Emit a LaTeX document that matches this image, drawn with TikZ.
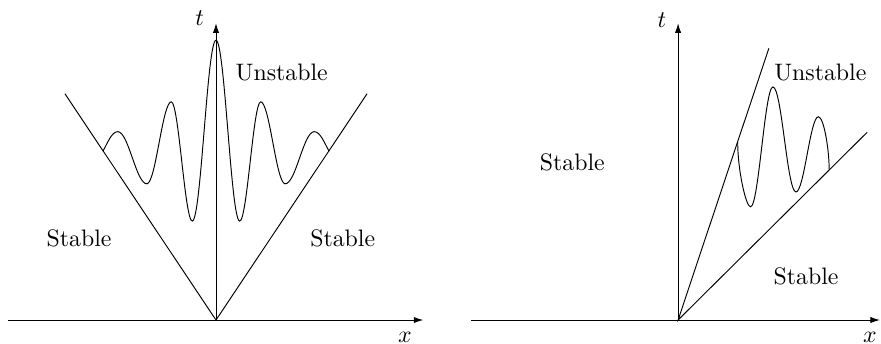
\documentclass[tikz,border=0pt]{standalone}
\usetikzlibrary{arrows.meta}
\begin{document}
\begin{tikzpicture}[axis/.style={-{Latex[length=4pt,width=2.6pt]}}]
\useasboundingbox (-3.188,-0.354) rectangle (9.815,4.723);

   % left: symmetric cone
   \coordinate (O1) at (0,0);
   \coordinate (xe1) at (3.06,0);
   \coordinate (te1) at (0,4.38);
   \draw[axis] (-3.07,0) -- (xe1);
   \draw[axis] (O1) -- (te1);
   \node (t1) at (-0.24,4.46) {$t$};
   \node (x1) at (2.79,-0.25) {$x$};

   \draw (-2.23,3.34) -- (O1) -- (2.23,3.34);

   \node (u1) at (0.97,3.66) {Unstable};
   \node (sl1) at (-2.02,1.21) {Stable};
   \node (sr1) at (1.87,1.21) {Stable};

   \foreach \s in {1,-1}
   \draw[xscale=\s] (-1.67,2.49) .. controls +(60:0.14) and +(-0.09,0) .. (-1.45,2.78)
      .. controls +(0.16,0) and +(-0.16,0) .. (-1.02,2.01)
      .. controls +(0.13,0) and +(-0.13,0) .. (-0.66,3.22)
      .. controls +(0.11,0) and +(-0.11,0) .. (-0.35,1.46)
      .. controls +(0.13,0) and +(-0.13,0) .. (0,4.13);

   % right: one-sided cone
   \begin{scope}[xshift=6.82cm]
   \coordinate (O2) at (0,0);
   \coordinate (xe2) at (2.98,0);
   \coordinate (te2) at (0,4.38);
   \draw[axis] (-3.06,0) -- (xe2);
   \draw[axis] (O2) -- (te2);
   \node (t2) at (-0.24,4.43) {$t$};
   \node (x2) at (2.83,-0.25) {$x$};

   \draw (1.34,4.01) -- (O2) -- (2.79,2.77);

   \node (u2) at (2.10,3.66) {Unstable};
   \node (sl2) at (-1.56,2.33) {Stable};
   \node (sr2) at (1.89,0.65) {Stable};

   \draw (0.88,2.62) .. controls +(0,-0.4) and +(-0.07,0) .. (1.07,1.67)
      .. controls +(0.12,0) and +(-0.12,0) .. (1.40,3.44)
      .. controls +(0.13,0) and +(-0.13,0) .. (1.74,1.89)
      .. controls +(0.12,0) and +(-0.12,0) .. (2.07,3.00)
      .. controls +(0.08,0) and +(0,0.3) .. (2.23,2.22);
   \end{scope}

\end{tikzpicture}
\end{document}
